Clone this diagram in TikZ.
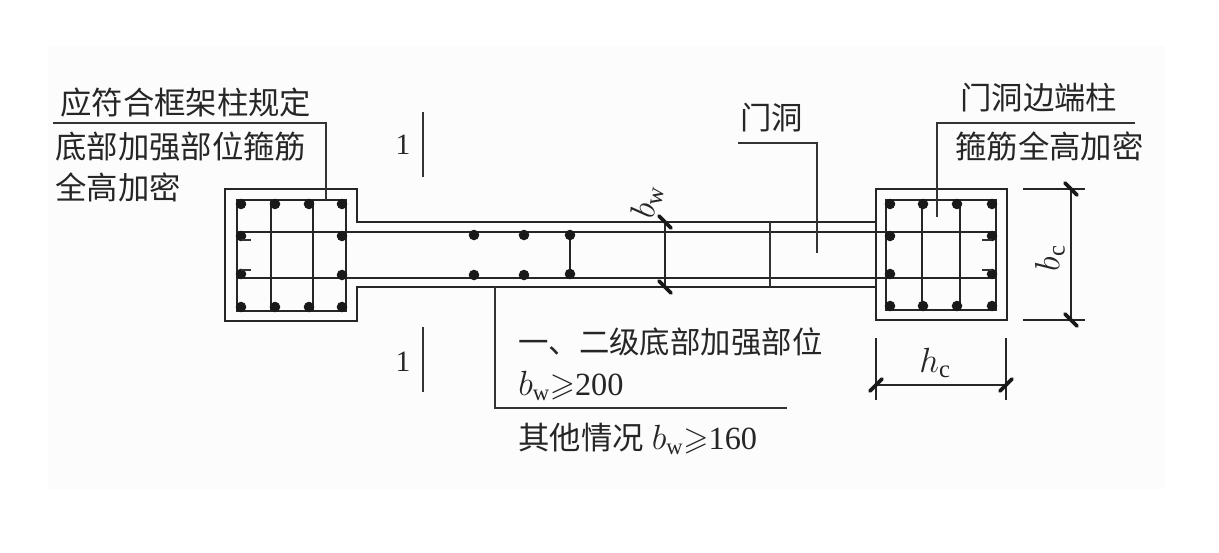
\documentclass[tikz,border=0pt]{standalone}
\usepackage{amssymb}
\usepackage{fontspec}
\setmainfont{Liberation Serif}
\newfontfamily\cjk{Noto Sans CJK SC}[Scale=0.97]
\usetikzlibrary{calc}
\tikzset{
    page color/.style={fill=black!1,draw=none},
    wall line/.style={line width=1.3pt,black!85},
    rebar line/.style={line width=1.4pt,black!85},
    thin line/.style={line width=1pt,black!80},
    leader/.style={line width=1pt,black!80},
    dim line/.style={line width=1pt,black!85},
    dim tick/.style={line width=2.6pt,black!90,line cap=round},
    rebar/.style={circle,fill=black!90,inner sep=0pt,minimum size=7.5pt},
    label text/.style={anchor=west,inner sep=0pt,black!85,font=\fontsize{23}{27}\selectfont},
    section text/.style={inner sep=0pt,black!85,font=\fontsize{21}{25}\selectfont},
    dim text/.style={inner sep=0pt,black!85,font=\fontsize{25}{29}\selectfont},
}
\newcommand{\bw}{$b_{\mathrm{w}}$}

\begin{document}
\begin{tikzpicture}[x=.025cm,y=-.025cm]
        \useasboundingbox (0,0) rectangle (1219,553);
        \fill[page color] (48,46) rectangle (1165,489);

        \coordinate (R1) at (876,189);
        \coordinate (R2) at (1007,320);

        % columns and wall
        \draw[wall line] (875,222) -- (357,222) -- (357,189) -- (225,189) -- (225,321) -- (357,321) -- (357,287) -- (875,287);
        \draw[wall line] (R1) rectangle (R2);
        \draw[rebar line] (237,200) rectangle (346,311);
        \draw[rebar line] (886,200) rectangle (996,310);
        \draw[rebar line] (237,232) -- (996,232);
        \draw[rebar line] (237,278) -- (996,278);
        \foreach \x in {271,313,922,960}
            \draw[rebar line] (\x,200) -- (\x,311);
        \draw[rebar line] (570,233) -- (570,277);
        \draw[rebar line] (665,222) -- (665,287);
        \draw[thin line] (770,222) -- (770,287);

        % rebars
        \foreach \x/\y in {241/204,275/204,309/204,342/204,241/307,275/307,309/307,342/307,
                241/236,241/274,342/236,342/275,
                890/204,923/204,957/204,992/204,890/306,923/306,957/306,992/306,
                890/236,890/274,992/236,992/274,
                474/235,524/235,570/235,474/275,524/275,570/274}
            \node[rebar] at (\x,\y) {};
        \foreach \x/\y/\z in {241/240/251,241/270/251,982/240/992,982/270/992}
            \draw[thin line] (\x,\y) -- (\z,\y);

        % section marks
        \draw[thin line] (423,112) -- (423,177);
        \draw[thin line] (423,327) -- (423,392);
        \node[section text] (sec top) at (403,145) {1};
        \node[section text] (sec bottom) at (403,362) {1};

        % labels
        \node[label text] (left a) at (60,103) {\cjk 应符合框架柱规定};
        \node[label text] (left b) at (55,147) {\cjk 底部加强部位箍筋};
        \node[label text] (left c) at (55,187) {\cjk 全高加密};
        \node[label text] (door) at (740,118) {\cjk 门洞};
        \node[label text] (right a) at (960,98) {\cjk 门洞边端柱};
        \node[label text] (right b) at (955,146) {\cjk 箍筋全高加密};
        \node[label text,font=\fontsize{22.3}{27}\selectfont] (low a) at (518,342) {\cjk 一、二级底部加强部位};
        \node[label text] (low b) at (518,386) {\bw$\geqslant$200};
        \node[label text] (low c) at (518,439) {{\cjk 其他情况} \bw$\geqslant$160};

        % leaders
        \draw[leader] (53,123) -- (326,123) -- (326,200);
        \draw[leader] (738,143) -- (817,143) -- (817,253);
        \draw[leader] (1135,123) -- (937,123) -- (937,217);
        \draw[leader] (495,287) -- (495,408) -- (787,408);

        % dimensions
        \draw[dim line] (1023,189) -- (1085,189);
        \draw[dim line] (1023,320) -- (1085,320);
        \draw[dim line] (1071,189) -- (1071,320);
        \draw[dim line] (876,338) -- (876,400);
        \draw[dim line] (1006,338) -- (1006,400);
        \draw[dim line] (876,385) -- (1006,385);
        \foreach \x/\y in {1071/189,1071/320,665/222,665/287}
            \draw[dim tick] ($(\x,\y)+(-6,-6)$) -- ($(\x,\y)+(6,6)$);
        \foreach \x in {876,1006}
            \draw[dim tick] ($(\x,385)+(-6,6)$) -- ($(\x,385)+(6,-6)$);
        \node[dim text,rotate=80] (bw label) at (647,202) {\bw};
        \node[dim text,rotate=90] (bc label) at (1050,258) {$b_{\mathrm{c}}$};
        \node[dim text] (hc label) at (935,363) {$h_{\mathrm{c}}$};
    \end{tikzpicture}
\end{document}
